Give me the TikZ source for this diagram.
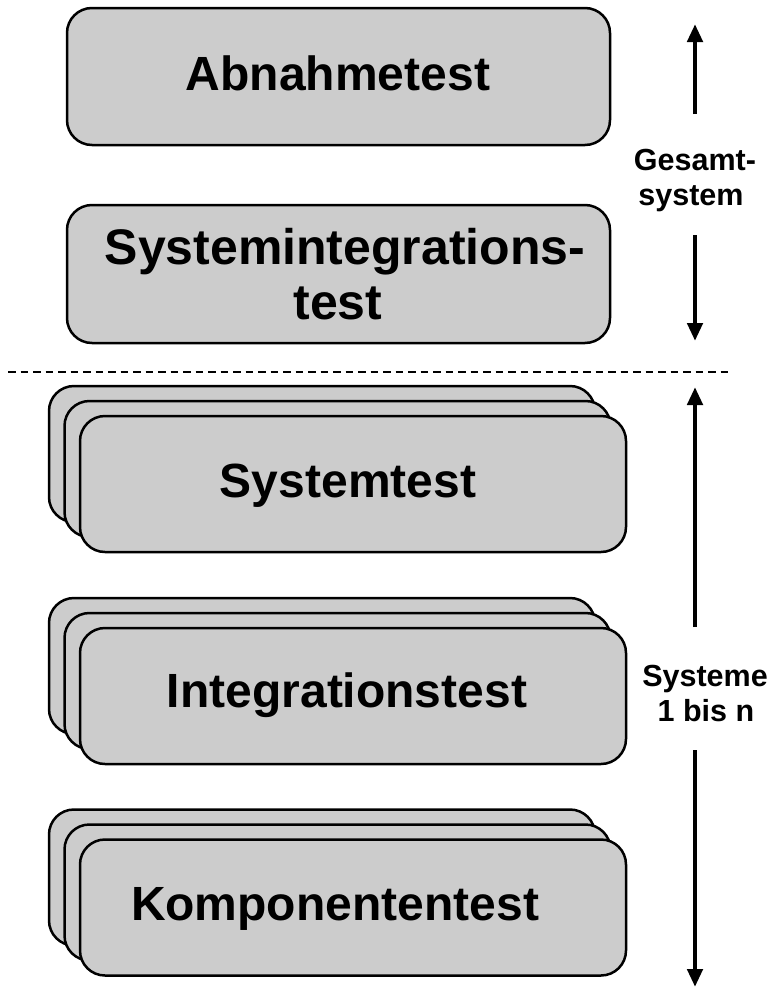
\documentclass[tikz,border=0pt]{standalone}
\usepackage{fontspec}
\setmainfont{Liberation Sans}
\usetikzlibrary{arrows.meta}
\definecolor{boxgray}{HTML}{CCCCCC}
\begin{document}
\begin{tikzpicture}[x=1pt,y=-1pt,
  box/.style={draw=black, line width=2.5pt, fill=boxgray, rounded corners=25pt,
              minimum width=546pt, minimum height=136pt, inner sep=0pt},
  big/.style={font=\fontsize{48}{55}\selectfont\bfseries, anchor=base, inner sep=0pt},
  small/.style={font=\fontsize{30.5}{35}\selectfont\bfseries, anchor=base, inner sep=0pt},
  arr/.style={line width=4.5pt, -{Triangle[length=18pt,width=15pt]}},
  sep/.style={line width=1.5pt, dash pattern=on 7.5pt off 5pt}
]
\useasboundingbox (0,0) rectangle (772,988);

% upper single boxes
\node[box, minimum width=543pt, minimum height=137pt] (abn) at (338.5,76.5) {};
\node[big] (abnT) at (338,90) {Abnahmetest};

\node[box, minimum width=543pt, minimum height=138pt] (sint) at (338.5,274) {};
\node[big, font=\fontsize{50}{55}\selectfont\bfseries] (sintT1) at (345,264) {Systemintegrations-};
\node[big, font=\fontsize{50}{55}\selectfont\bfseries] (sintT2) at (338,319) {test};

% separator
\coordinate (sepL) at (8,372);
\coordinate (sepR) at (728,372);
\draw[sep] (sepL) -- (sepR);

% Systemtest stack
\node[box] (st3) at (322,454) {};
\node[box] (st2) at (337.5,469) {};
\node[box] (st1) at (353,484) {};
\node[big] (stT) at (348,497) {Systemtest};

% Integrationstest stack
\node[box] (it3) at (322,666) {};
\node[box] (it2) at (337.5,681) {};
\node[box] (it1) at (353,696) {};
\node[big] (itT) at (347,707) {Integrationstest};

% Komponententest stack
\node[box] (kt3) at (322,877.5) {};
\node[box] (kt2) at (337.5,892.5) {};
\node[box] (kt1) at (353,907.5) {};
\node[big] (ktT) at (335,920) {Komponententest};

% right labels
\node[small] (g1) at (695,170) {Gesamt-};
\node[small] (g2) at (691,205) {system};
\node[small] (s1) at (705,686) {Systeme};
\node[small] (s2) at (706,721) {1 bis n};

% arrows
\coordinate (gUpA) at (695,114);
\coordinate (gUpB) at (695,24);
\coordinate (gDnA) at (695,235);
\coordinate (gDnB) at (695,341);
\coordinate (sUpA) at (695,627);
\coordinate (sUpB) at (695,387);
\coordinate (sDnA) at (695,750);
\coordinate (sDnB) at (695,987);
\draw[arr] (gUpA) -- (gUpB);
\draw[arr] (gDnA) -- (gDnB);
\draw[arr] (sUpA) -- (sUpB);
\draw[arr] (sDnA) -- (sDnB);
\end{tikzpicture}
\end{document}
